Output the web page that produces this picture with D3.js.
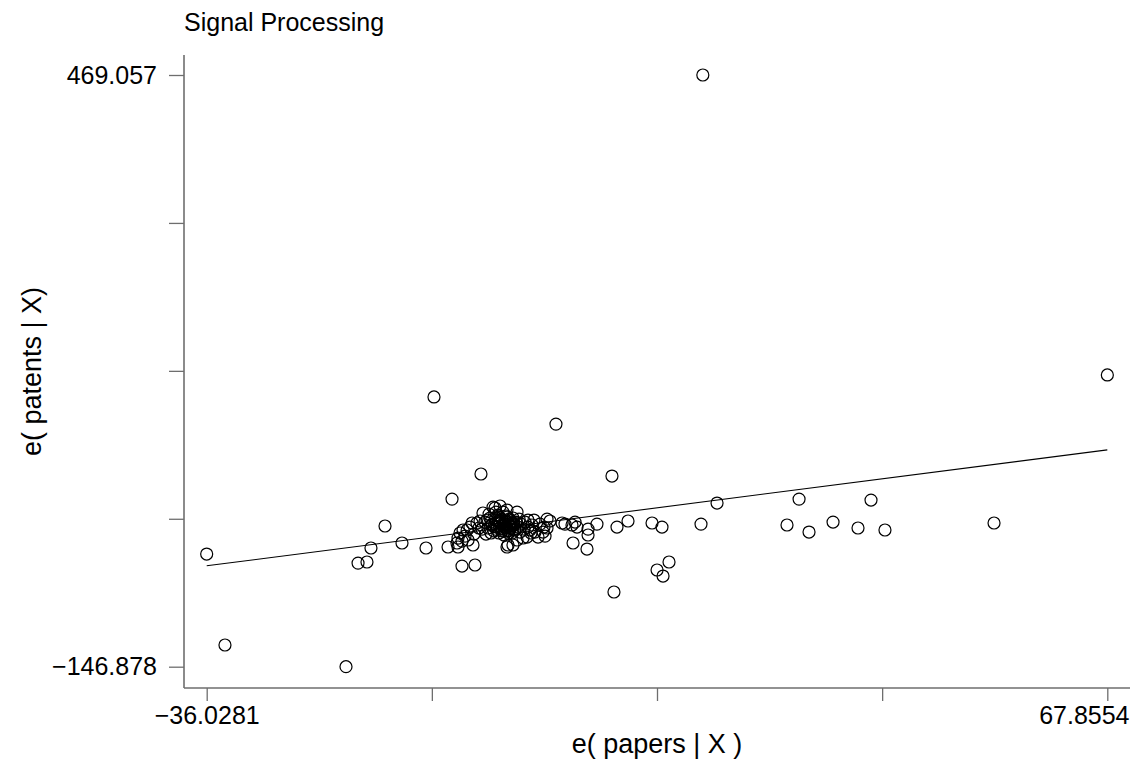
<!DOCTYPE html>
<html>
<head>
<meta charset="utf-8">
<script src="https://cdn.jsdelivr.net/npm/d3@7"></script>
<style>
  body { margin: 0; background: #fff; }
  text { font-family: "Liberation Sans", Arial, sans-serif; fill: #000; }
</style>
</head>
<body>
<div id="chart"></div>
<script>
// residuals e(papers | X) and e(patents | X)
const papersResid = [
  21.2, 67.86, -9.81, 4.26, -4.39, 10.72, -7.73, 22.84, 32.30, 40.60,
  -36.03, -33.92, -19.96, -15.46, -18.57, -17.54, -17.08, -13.50, -10.73, -8.19,
  -6.58, -5.08, 10.95, 15.92, 16.61, 17.30, 11.30, 12.57, 15.34, 16.49,
  20.99, 30.91, 33.45, 36.22, 39.10, 42.21, 54.79, 6.23, 7.84, 7.96,
  7.96, 8.99, 6.69, 6.46, 5.30, 4.96, 6.11, 3.23, 3.23, 2.77,
  -3.00, -2.19, -4.16, -5.42, -6.46, -7.04, -7.04, -5.31, -1.39, -0.23,
  0.92, -7.16, -5.66, -4.85, -3.69, -2.77, -1.39, -1.27, -0.23, 0.69,
  1.50, 1.84, 0.46, -0.70, 2.19, -6.23, -6.81, -5.88,
  -3.93, -3.58, -3.35, -3.12, -2.89, -2.77, -2.54, -2.43, -2.31, -2.19,
  -2.08, -1.96, -1.85, -1.73, -1.62, -1.50, -1.39, -1.27, -1.16, -1.04,
  -0.93, -0.81, -0.70, -0.58, -0.46, -0.35, -0.12, 0.00, 0.11, -3.23,
  -3.46, -2.66, -1.85, -3.81, -4.27, -4.50, 0.23, 0.57, 1.03, 1.26,
  -5.99, -5.19, -4.62, -6.58, 1.03, 1.72, 2.42, 2.88, 3.57, 1.38, 3.00,
  -2.8, -2.5, -2.2, -1.9, -1.6, -1.3, -1.0, -0.7, -2.6, -2.0,
  -1.4, -0.8, -2.3, -1.7, -1.1, -0.5, -2.9, -2.4, -1.8, -1.2,
  -0.6, -3.1, -2.0, -1.5, -0.9, -0.3, -2.7, -1.6, -1.0, -2.2
]
const patentsResid = [
  469.06, 156.8, 133.9, 105.7, 53.7, 51.6, 27.6, 23.5, 27.6, 26.6,
  -29.6, -124.3, -146.88, -0.4, -39.0, -37.9, -23.3, -18.1, -23.3, -22.3,
  -42.1, -41.0, -69.1, -46.2, -52.5, -37.9, -1.5, 4.8, 2.7, -1.5,
  1.6, 0.6, -6.7, 3.7, -2.5, -4.6, 2.7, -18.1, -24.4, -9.8,
  -3.6, 1.6, -1.5, 3.7, 1.6, 2.7, 0.6, 6.8, -2.5, -6.7,
  19.3, 20.4, 13.1, 2.7, -4.6, -13.0, -22.3, -20.2, -22.3, -15.0,
  -11.9, -18.1, -1.5, 2.7, 5.8, 18.3, 16.2, -20.2, 14.1, 3.7,
  0.6, -6.7, -12.9, -20.2, -11.9, -10.9, -7.7, -15.0,
  3.7, -2.5, 7.9, 0.6, -5.6, 5.8, -1.5, 11.0, -7.7, 2.7,
  -3.6, 6.8, -0.4, -9.8, 4.8, -2.5, 8.9, -5.6, 1.6, 5.8,
  -1.5, -7.7, 7.9, 0.6, -4.6, 3.7, -1.5, 6.8, -6.7, -7.7,
  12.0, 14.1, 14.1, -8.8, -3.6, 4.8, 1.6, -3.6, 5.8, -4.6,
  -4.6, -8.8, -2.5, -16.1, -1.5, 5.8, 1.6, -1.5, 4.8, -7.7, -10.9,
  2.0, -1.0, 4.0, -3.0, 1.0, -5.0, 3.0, 0.0, -4.0, 6.0,
  -2.0, 2.5, 9.0, -6.0, 7.0, -3.5, -1.0, 4.5, 0.5, -8.0,
  2.0, 1.5, -5.5, 10.0, -0.5, 3.0, 8.0, -1.5, -3.0, 5.0
]
const xExtent = [-36.0281, 67.8554]
const yExtent = [-146.878, 469.057]
const xEndLabels = ['\u221236.0281', '67.8554']
const yEndLabels = ['\u2212146.878', '469.057']
const slope = 1.162   // fitted coefficient, line goes through the origin

const width = 1136, height = 761
const plot = {left: 184, right: 1130, top: 55, bottom: 688}
const font = '"Liberation Sans", Arial, sans-serif'

const svg = d3.select('#chart').append('svg')
    .attr('width', width)
    .attr('height', height)

const x = d3.scaleLinear().domain(xExtent).range([206.7, 1107.3])
const y = d3.scaleLinear().domain(yExtent).range([666.7, 75])

const quarters = v => d3.range(5).map(i => v[0] + (v[1] - v[0]) * i / 4)
const endLabel = (n, fmt) => (d, i) => i === 0 ? fmt[0] : i === n - 1 ? fmt[1] : ''

const xTicks = quarters(xExtent)
const yTicks = quarters(yExtent)
const axisColor = '#6e6e6e'

// x axis
const xAxis = d3.axisBottom(x)
    .tickValues(xTicks)
    .tickSize(13)
    .tickSizeOuter(0)
    .tickPadding(5)
    .tickFormat(endLabel(xTicks.length, xEndLabels))

const xg = svg.append('g')
    .attr('transform', `translate(0, ${plot.bottom})`)
    .call(xAxis)
xg.select('.domain').remove()
xg.selectAll('line').attr('stroke', axisColor).attr('stroke-width', 1.3)
xg.selectAll('text').attr('font-size', 25).attr('font-family', font).attr('fill', '#000')
// last label pushed left so it stays inside the axis end
xg.selectAll('.tick').filter((d, i) => i === xTicks.length - 1).select('text')
    .attr('text-anchor', 'end')
    .attr('x', plot.right - 1 - x(xExtent[1]))

// y axis
const yAxis = d3.axisLeft(y)
    .tickValues(yTicks)
    .tickSize(15)
    .tickSizeOuter(0)
    .tickPadding(12)
    .tickFormat(endLabel(yTicks.length, yEndLabels))

const yg = svg.append('g')
    .attr('transform', `translate(${plot.left}, 0)`)
    .call(yAxis)
yg.select('.domain').remove()
yg.selectAll('line').attr('stroke', axisColor).attr('stroke-width', 1.3)
yg.selectAll('text').attr('font-size', 25).attr('font-family', font).attr('fill', '#000')

// axis frame lines
svg.append('line')
    .attr('x1', plot.left).attr('x2', plot.right)
    .attr('y1', plot.bottom).attr('y2', plot.bottom)
    .attr('stroke', axisColor).attr('stroke-width', 1.6)
svg.append('line')
    .attr('x1', plot.left).attr('x2', plot.left)
    .attr('y1', plot.top).attr('y2', plot.bottom)
    .attr('stroke', axisColor).attr('stroke-width', 1.6)

// points
const pts = papersResid.map((d, i) => ({x: d, y: patentsResid[i]}))
svg.append('g').selectAll('circle')
    .data(pts)
    .enter()
    .append('circle')
        .attr('cx', d => x(d.x))
        .attr('cy', d => y(d.y))
        .attr('r', 6)
        .attr('fill', 'none')
        .attr('stroke', '#000')
        .attr('stroke-width', 1.2)

// fitted line
const line = d3.line().x(d => x(d)).y(d => y(slope * d))
svg.append('path')
    .datum(xExtent)
    .attr('d', line)
    .attr('fill', 'none')
    .attr('stroke', '#000')
    .attr('stroke-width', 1.1)

// titles
svg.append('text')
    .attr('x', plot.left)
    .attr('y', 31)
    .attr('font-size', 25)
    .text('Signal Processing')

svg.append('text')
    .attr('x', 657)
    .attr('y', 753)
    .attr('text-anchor', 'middle')
    .attr('font-size', 27)
    .text('e( papers | X )')

svg.append('text')
    .attr('transform', `translate(41, ${(plot.top + plot.bottom) / 2}) rotate(-90)`)
    .attr('text-anchor', 'middle')
    .attr('font-size', 27)
    .text('e( patents | X)')
</script>
</body>
</html>
